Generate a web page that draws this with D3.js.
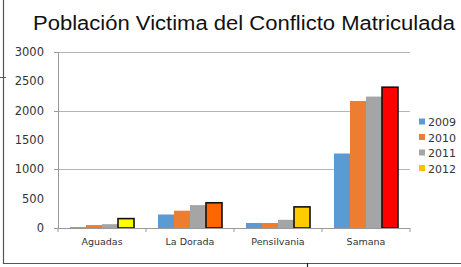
<!DOCTYPE html>
<meta charset="utf-8">
<style>
body { margin: 0; background: #fff; }
text { font-family: "DejaVu Sans", sans-serif; fill: #333; }
.title { font-family: "Liberation Sans", Arial, sans-serif; fill: #111; }
</style>
<body>
<script src="https://cdn.jsdelivr.net/npm/d3@7"></script>
<script>
var categories = ["Aguadas", "La Dorada", "Pensilvania", "Samana"];
var years = ["2009", "2010", "2011", "2012"];
var v2009 = [15, 230, 85, 1270];
var v2010 = [50, 295, 85, 2165];
var v2011 = [65, 390, 140, 2240];
var v2012 = [160, 430, 360, 2400];
var yLabels = [0, 500, 1000, 1500, 2000, 2500, 3000];
var yGrid = [0, 1000, 2000, 3000];

var yearColors = ["#5b9bd5", "#ed7d31", "#a5a5a5", "#ffc000"];
// 2012 bars are each painted differently
var color2012 = ["#ffff00", "#ff6600", "#ffcc00", "#ff0000"];

var series = [v2009, v2010, v2011, v2012];
var width = 461, height = 267;

var svg = d3.select("body").append("svg")
    .attr("width", width)
    .attr("height", height);

// outer frame (left + bottom)
svg.append("path")
    .attr("d", "M3.5,0V263.5H461")
    .attr("fill", "none")
    .attr("stroke", "#555")
    .attr("stroke-width", 1.2);
svg.append("line").attr("x1", 307.5).attr("x2", 307.5).attr("y1", 263).attr("y2", 267)
    .attr("stroke", "#222").attr("stroke-width", 1.2);
svg.append("line").attr("x1", 0).attr("x2", 6).attr("y1", 77.5).attr("y2", 77.5)
    .attr("stroke", "#555");

svg.append("text")
    .attr("class", "title")
    .attr("x", 33)
    .attr("y", 30)
    .attr("textLength", 422)
    .attr("lengthAdjust", "spacingAndGlyphs")
    .style("font-size", "20px")
    .text("Población Victima del Conflicto Matriculada");

var x = d3.scaleBand().domain(categories).range([58, 410]);
var x1 = d3.scaleBand().domain(years).range([12, 76]);
var y = d3.scaleLinear().domain([0, 3000]).range([228, 52]);

// gridlines
svg.append("g").selectAll("line")
    .data(yGrid.slice(1))
  .enter().append("line")
    .attr("x1", 58).attr("x2", 410)
    .attr("y1", function(d) { return Math.round(y(d)) + 0.5; })
    .attr("y2", function(d) { return Math.round(y(d)) + 0.5; })
    .attr("stroke", "#b5b5b5");

// y axis
svg.append("line")
    .attr("x1", 58.5).attr("x2", 58.5).attr("y1", y(3000)).attr("y2", y(0))
    .attr("stroke", "#999");
svg.append("g").selectAll("line")
    .data(yGrid)
  .enter().append("line")
    .attr("x1", 54).attr("x2", 58)
    .attr("y1", function(d) { return Math.round(y(d)) + 0.5; })
    .attr("y2", function(d) { return Math.round(y(d)) + 0.5; })
    .attr("stroke", "#999");
svg.append("g").selectAll("text")
    .data(yLabels)
  .enter().append("text")
    .attr("x", 44)
    .attr("y", function(d) { return y(d) + 4; })
    .attr("text-anchor", "end")
    .style("font-size", "11.5px")
    .text(function(d) { return d; });

// bars
var groups = svg.append("g").selectAll("g")
    .data(categories)
  .enter().append("g")
    .attr("transform", function(d) { return "translate(" + x(d) + ",0)"; });

groups.selectAll("rect")
    .data(function(d, i) {
      return years.map(function(yr, j) { return { year: yr, j: j, ci: i, value: series[j][i] }; });
    })
  .enter().append("rect")
    .attr("x", function(d) { return x1(d.year); })
    .attr("width", x1.bandwidth())
    .attr("y", function(d) { return y(d.value); })
    .attr("height", function(d) { return y(0) - y(d.value); })
    .attr("fill", function(d) { return d.j == 3 ? color2012[d.ci] : yearColors[d.j]; })
    .attr("stroke", function(d) { return d.j == 3 ? "#111" : "none"; })
    .attr("stroke-width", 1.6);

// x axis
svg.append("line")
    .attr("x1", 58).attr("x2", 410).attr("y1", 228.5).attr("y2", 228.5)
    .attr("stroke", "#999");
svg.append("g").selectAll("line")
    .data(d3.range(categories.length + 1))
  .enter().append("line")
    .attr("x1", function(i) { return 58 + i * x.bandwidth(); })
    .attr("x2", function(i) { return 58 + i * x.bandwidth(); })
    .attr("y1", 228).attr("y2", 232)
    .attr("stroke", "#999");
svg.append("g").selectAll("text")
    .data(categories)
  .enter().append("text")
    .attr("x", function(d) { return x(d) + x.bandwidth() / 2; })
    .attr("y", 245)
    .attr("text-anchor", "middle")
    .style("font-size", "9.5px")
    .text(function(d) { return d; });

// legend
var legend = svg.append("g").selectAll("g")
    .data(years)
  .enter().append("g")
    .attr("transform", function(d, i) { return "translate(419," + (122 + i * 15.5) + ")"; });
legend.append("rect")
    .attr("x", 0).attr("y", -3.5).attr("width", 6).attr("height", 6)
    .attr("fill", function(d, i) { return yearColors[i]; });
legend.append("text")
    .attr("x", 9).attr("y", 4)
    .style("font-size", "11px")
    .text(function(d) { return d; });
</script>
